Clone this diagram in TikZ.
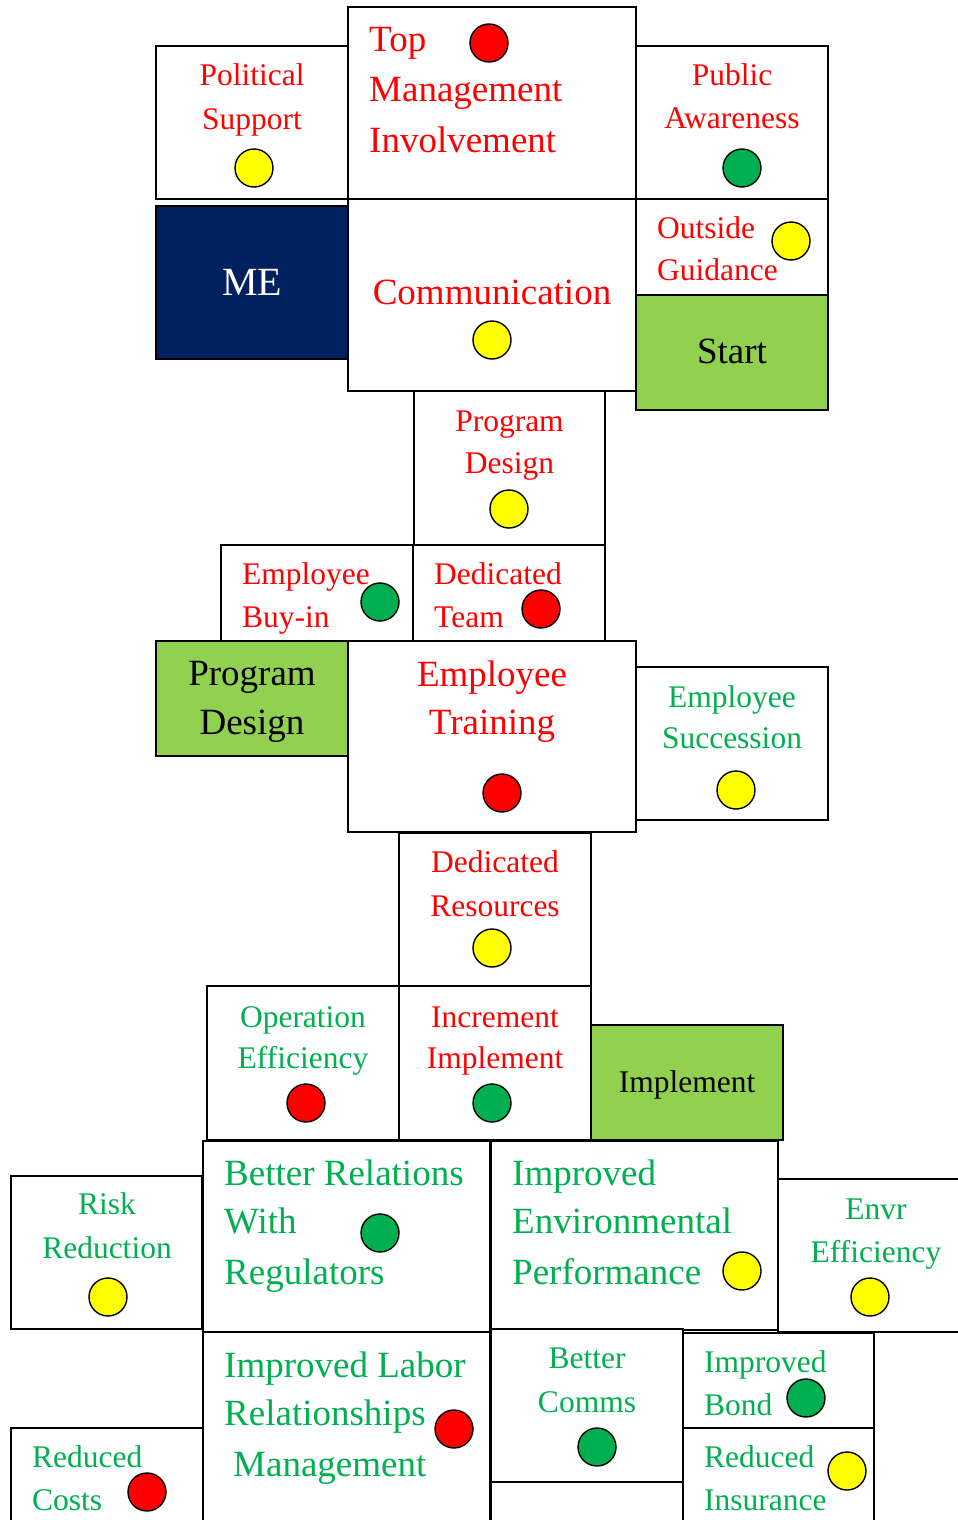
\documentclass[tikz,border=0pt]{standalone}
\usepackage{fontspec}
\setmainfont{Liberation Serif}
\definecolor{navy}{HTML}{002060}
\definecolor{keygreen}{HTML}{92D050}
\definecolor{okgreen}{HTML}{00B050}
\definecolor{warnred}{HTML}{FF0000}
\definecolor{warnyellow}{HTML}{FFFF00}
\begin{document}
\begin{tikzpicture}[x=1pt,y=-1pt,
  cell/.style={rectangle, draw=black, line width=1.6pt, fill=white, inner sep=0pt, outer sep=0pt, anchor=north west},
  keycell/.style={cell, fill=keygreen},
  mecell/.style={cell, fill=navy},
  dot/.style={circle, draw=black, line width=1.4pt, minimum size=38pt, inner sep=0pt},
  rdot/.style={dot, fill=warnred},
  ydot/.style={dot, fill=warnyellow},
  gdot/.style={dot, fill=okgreen},
  sm/.style={font=\fontsize{31.5}{43}\selectfont, inner sep=0pt},
  lg/.style={font=\fontsize{37}{50}\selectfont, inner sep=0pt},
  rc/.style={sm, text=warnred, anchor=base},
  rl/.style={sm, text=warnred, anchor=base west},
  gc/.style={sm, text=okgreen, anchor=base},
  gl/.style={sm, text=okgreen, anchor=base west},
  Rc/.style={lg, text=warnred, anchor=base},
  Rl/.style={lg, text=warnred, anchor=base west},
  Gl/.style={lg, text=okgreen, anchor=base west}]
\useasboundingbox (0,0) rectangle (958,1520);
\clip (0,0) rectangle (958,1520);

% ---- top cluster
\node[cell, minimum width=192pt, minimum height=153pt] (ps) at (156,46) {};
\node[cell, minimum width=192pt, minimum height=153pt] (pa) at (636,46) {};
\node[cell, minimum width=288pt, minimum height=192pt] (tm) at (348,7) {};
\node[mecell, minimum width=192pt, minimum height=153pt] (me) at (156,206) {};
\node[cell, minimum width=288pt, minimum height=192pt] (com) at (348,199) {};
\node[cell, minimum width=192pt, minimum height=96pt] (og) at (636,199) {};
\node[keycell, minimum width=192pt, minimum height=115pt] (st) at (636,295) {};

% ---- program design cluster
\node[cell, minimum width=191pt, minimum height=154pt] (pd) at (414,391) {};
\node[cell, minimum width=192pt, minimum height=96pt] (eb) at (221,545) {};
\node[cell, minimum width=192pt, minimum height=96pt] (dt) at (413,545) {};
\node[cell, minimum width=192pt, minimum height=153pt] (es) at (636,667) {};
\node[keycell, minimum width=192pt, minimum height=115pt] (pdg) at (156,641) {};
\node[cell, minimum width=288pt, minimum height=191pt] (et) at (348,641) {};

% ---- implement cluster
\node[cell, minimum width=192pt, minimum height=153pt] (dr) at (399,833) {};
\node[cell, minimum width=192pt, minimum height=154pt] (oe) at (207,986) {};
\node[cell, minimum width=192pt, minimum height=154pt] (ii) at (399,986) {};
\node[keycell, minimum width=192pt, minimum height=115pt] (im) at (591,1025) {};

% ---- outcomes
\node[cell, minimum width=191pt, minimum height=153pt] (rr) at (11,1176) {};
\node[cell, minimum width=190pt, minimum height=153pt] (ee) at (778,1179) {};
\node[cell, minimum width=287pt, minimum height=191pt] (br) at (203,1141) {};
\node[cell, minimum width=287pt, minimum height=189pt] (ie) at (491,1141) {};
\node[cell, minimum width=287pt, minimum height=200pt] (il) at (203,1332) {};
\node[cell, minimum width=192pt, minimum height=153pt] (bc) at (491,1329) {};
\node[cell, minimum width=192pt, minimum height=60pt] (bx) at (491,1482) {};
\node[cell, minimum width=191pt, minimum height=95pt] (ib) at (683,1333) {};
\node[cell, minimum width=192pt, minimum height=100pt] (rcst) at (11,1428) {};
\node[cell, minimum width=191pt, minimum height=100pt] (rin) at (683,1428) {};

% ---- labels
\node[rc] (ps1) at (252,85) {Political};
\node[rc] (ps2) at (252,129) {Support};
\node[Rl] (tm1) at (369,52) {Top};
\node[Rl] (tm2) at (369,101) {Management};
\node[Rl] (tm3) at (369,152) {Involvement};
\node[rc] (pa1) at (732,85) {Public};
\node[rc] (pa2) at (732,128) {Awareness};
\node[rl] (og1) at (657,238) {Outside};
\node[rl] (og2) at (657,280) {Guidance};
\node[font=\fontsize{40}{50}\selectfont, inner sep=0pt, text=white, anchor=base] (me1) at (252,295) {ME};
\node[Rc] (com1) at (492,304) {Communication};
\node[lg, text=black, anchor=base] (st1) at (732,363) {Start};

\node[rc] (pd1) at (509.5,431) {Program};
\node[rc] (pd2) at (509.5,473) {Design};
\node[rl] (eb1) at (242,584) {Employee};
\node[rl] (eb2) at (242,627) {Buy-in};
\node[rl] (dt1) at (434,584) {Dedicated};
\node[rl] (dt2) at (434,627) {Team};
\node[lg, text=black, anchor=base] (pdg1) at (252,685) {Program};
\node[lg, text=black, anchor=base] (pdg2) at (252,734) {Design};
\node[Rc] (et1) at (492,686) {Employee};
\node[Rc] (et2) at (492,734) {Training};
\node[gc] (es1) at (732,707) {Employee};
\node[gc] (es2) at (732,748) {Succession};

\node[rc] (dr1) at (495,872) {Dedicated};
\node[rc] (dr2) at (495,916) {Resources};
\node[gc] (oe1) at (303,1027) {Operation};
\node[gc] (oe2) at (303,1068) {Efficiency};
\node[rc] (ii1) at (495,1027) {Increment};
\node[rc] (ii2) at (495,1068) {Implement};
\node[sm, text=black, anchor=base] (im1) at (687,1092) {Implement};

\node[gc] (rr1) at (107,1214) {Risk};
\node[gc] (rr2) at (107,1258) {Reduction};
\node[Gl] (br1) at (224,1185) {Better Relations};
\node[Gl] (br2) at (224,1233) {With};
\node[Gl] (br3) at (224,1284) {Regulators};
\node[Gl] (ie1) at (512,1185) {Improved};
\node[Gl] (ie2) at (512,1233) {Environmental};
\node[Gl] (ie3) at (512,1284) {Performance};
\node[gc] (ee1) at (876,1219) {Envr};
\node[gc] (ee2) at (876,1262) {Efficiency};
\node[Gl] (il1) at (224,1377) {Improved Labor};
\node[Gl] (il2) at (224,1425) {Relationships};
\node[Gl] (il3) at (233,1476) {Management};
\node[gc] (bc1) at (587,1368) {Better};
\node[gc] (bc2) at (587,1412) {Comms};
\node[gl] (ib1) at (704,1372) {Improved};
\node[gl] (ib2) at (704,1415) {Bond};
\node[gl] (rcst1) at (32,1467) {Reduced};
\node[gl] (rcst2) at (32,1510) {Costs};
\node[gl] (rin1) at (704,1467) {Reduced};
\node[gl] (rin2) at (704,1510) {Insurance};

% ---- status dots
\node[ydot] (d-ps) at (254,168) {};
\node[rdot] (d-tm) at (489,43) {};
\node[gdot] (d-pa) at (742,168) {};
\node[ydot] (d-og) at (791,241) {};
\node[ydot] (d-com) at (492,340) {};
\node[ydot] (d-pd) at (509,509) {};
\node[gdot] (d-eb) at (380,602) {};
\node[rdot] (d-dt) at (541,609) {};
\node[rdot] (d-et) at (502,793) {};
\node[ydot] (d-es) at (736,790) {};
\node[ydot] (d-dr) at (492,948) {};
\node[rdot] (d-oe) at (306,1103) {};
\node[gdot] (d-ii) at (492,1103) {};
\node[ydot] (d-rr) at (108,1297) {};
\node[gdot] (d-br) at (380,1233) {};
\node[ydot] (d-ie) at (742,1271) {};
\node[ydot] (d-ee) at (870,1297) {};
\node[rdot] (d-il) at (454,1429) {};
\node[gdot] (d-bc) at (597,1447) {};
\node[gdot] (d-ib) at (806,1398) {};
\node[rdot] (d-rcst) at (147,1492) {};
\node[ydot] (d-rin) at (847,1471) {};
\end{tikzpicture}
\end{document}
